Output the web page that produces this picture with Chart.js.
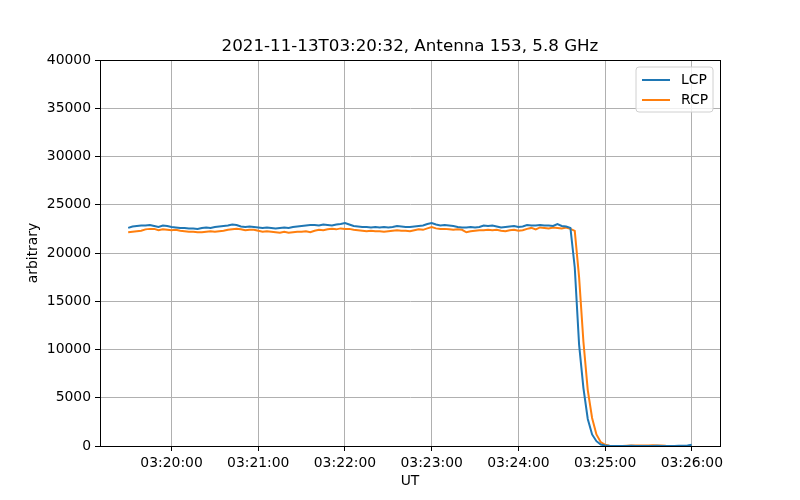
<!DOCTYPE html>
<html>
<head>
<meta charset="utf-8">
<script src="https://cdn.jsdelivr.net/npm/chart.js@4"></script>
<style>
  html, body { margin: 0; padding: 0; background: #fff; }
  #wrap { width: 800px; height: 500px; }
</style>
</head>
<body>
<div id="wrap"><canvas id="chart" width="800" height="500"></canvas></div>
<script>
// samples every 3 s starting 03:19:30 UT
const startSec = 3 * 3600 + 19 * 60 + 30;
const stepSec = 3;

const lcp = [
  22600, 22750, 22800, 22850, 22850, 22900, 22800, 22700, 22850, 22800,
  22700, 22650, 22600, 22600, 22550, 22550, 22500, 22600, 22650, 22600,
  22700, 22750, 22800, 22850, 22950, 22900, 22750, 22700, 22750, 22700,
  22650, 22600, 22650, 22600, 22550, 22600, 22650, 22600, 22700, 22750,
  22800, 22850, 22900, 22900, 22850, 22950, 22900, 22850, 22950, 23000,
  23100, 22950, 22800, 22750, 22700, 22700, 22650, 22700, 22650, 22700,
  22650, 22700, 22800, 22750, 22700, 22700, 22750, 22800, 22850, 23000,
  23100, 22950, 22850, 22900, 22850, 22800, 22700, 22650, 22650, 22700,
  22650, 22700, 22850, 22800, 22850, 22750, 22650, 22700, 22750, 22800,
  22700, 22750, 22900, 22850, 22850, 22900, 22850, 22850, 22800, 23000,
  22800, 22750, 22600, 18500, 10500, 6000, 2800, 1200, 500, 150,
  50, 20, 10, 0, 0, 10, 20, 10, 0, 10,
  0, 10, 20, 10, 0, 0, 10, 20, 30, 50,
  120
];

const rcp = [
  22150, 22200, 22250, 22300, 22450, 22500, 22500, 22350, 22450, 22400,
  22350, 22400, 22300, 22250, 22200, 22200, 22150, 22150, 22200, 22250,
  22200, 22250, 22300, 22400, 22450, 22500, 22450, 22350, 22400, 22400,
  22300, 22200, 22250, 22200, 22150, 22100, 22200, 22100, 22150, 22200,
  22200, 22250, 22150, 22300, 22400, 22350, 22450, 22500, 22450, 22550,
  22500, 22500, 22400, 22350, 22300, 22250, 22300, 22250, 22250, 22200,
  22250, 22300, 22350, 22300, 22300, 22250, 22350, 22450, 22400, 22550,
  22700, 22550, 22500, 22500, 22450, 22400, 22450, 22400, 22150, 22250,
  22300, 22350, 22350, 22400, 22350, 22400, 22300, 22250, 22350, 22400,
  22300, 22350, 22500, 22600, 22450, 22650, 22600, 22550, 22650, 22600,
  22550, 22650, 22500, 22300, 17500, 10800, 5800, 2900, 1200, 400,
  120, 20, 0, -20, 0, 20, 40, 50, 40, 60,
  50, 70, 60, 40, 20, 10, 0, -10, -20, -10,
  0
];

const tickLabels = ['03:20:00', '03:21:00', '03:22:00', '03:23:00', '03:24:00', '03:25:00', '03:26:00'];
const seriesNames = ['LCP', 'RCP'];
const seriesColors = ['#1f77b4', '#ff7f0e'];
const titleText = '2021-11-13T03:20:32, Antenna 153, 5.8 GHz';

function toSec(s) {
  const p = s.split(':').map(Number);
  return p[0] * 3600 + p[1] * 60 + p[2];
}
function fmt(v) {
  const h = Math.floor(v / 3600), m = Math.floor((v % 3600) / 60), s = Math.round(v % 60);
  return [h, m, s].map(n => String(n).padStart(2, '0')).join(':');
}

const pts = (arr) => arr.map((v, i) => ({ x: startSec + i * stepSec, y: v }));
const endSec = startSec + (lcp.length - 1) * stepSec;
const margin = (endSec - startSec) * 0.05;
const tickValues = tickLabels.map(toSec);

const FONT = 'DejaVu Sans';
Chart.defaults.font.family = FONT;
Chart.defaults.color = '#000';

const frameAndLegend = {
  id: 'frameAndLegend',
  afterDraw(chart) {
    const { ctx, chartArea: a } = chart;
    ctx.save();
    ctx.strokeStyle = '#000';
    ctx.lineWidth = 1;
    ctx.strokeRect(Math.round(a.left) + 0.5, Math.round(a.top) + 0.5,
      Math.round(a.right - a.left), Math.round(a.bottom - a.top));

    // title centred over the axes
    ctx.fillStyle = '#000';
    ctx.font = '16.7px ' + FONT;
    ctx.textAlign = 'center';
    ctx.textBaseline = 'middle';
    ctx.fillText(titleText, (a.left + a.right) / 2, a.top - 13);

    // legend box, upper right inside axes
    const bx = a.right - 84, by = a.top + 7, bw = 77, bh = 45, r = 3;
    ctx.beginPath();
    ctx.moveTo(bx + r, by);
    ctx.arcTo(bx + bw, by, bx + bw, by + bh, r);
    ctx.arcTo(bx + bw, by + bh, bx, by + bh, r);
    ctx.arcTo(bx, by + bh, bx, by, r);
    ctx.arcTo(bx, by, bx + bw, by, r);
    ctx.closePath();
    ctx.fillStyle = 'rgba(255,255,255,0.8)';
    ctx.fill();
    ctx.strokeStyle = '#d0d0d0';
    ctx.lineWidth = 1;
    ctx.stroke();
    ctx.font = '13.9px ' + FONT;
    ctx.textAlign = 'left';
    seriesNames.forEach((name, i) => {
      const y = by + 13 + i * 20;
      ctx.strokeStyle = seriesColors[i];
      ctx.lineWidth = 2;
      ctx.beginPath();
      ctx.moveTo(bx + 6, y);
      ctx.lineTo(bx + 34, y);
      ctx.stroke();
      ctx.fillStyle = '#000';
      ctx.fillText(name, bx + 45, y);
    });
    ctx.restore();
  }
};

new Chart(document.getElementById('chart'), {
  type: 'line',
  data: {
    datasets: [
      { label: seriesNames[0], data: pts(lcp), borderColor: seriesColors[0], borderWidth: 2, pointRadius: 0, tension: 0 },
      { label: seriesNames[1], data: pts(rcp), borderColor: seriesColors[1], borderWidth: 2, pointRadius: 0, tension: 0 }
    ]
  },
  options: {
    responsive: false,
    animation: false,
    layout: { padding: { left: 0, right: 80, top: 60, bottom: 0 } },
    plugins: {
      legend: { display: false },
      tooltip: { enabled: false },
      title: { display: false }
    },
    scales: {
      x: {
        type: 'linear',
        min: startSec - margin,
        max: endSec + margin,
        afterBuildTicks: (s) => { s.ticks = tickValues.map(v => ({ value: v })); },
        afterFit: (s) => { s.height = 54; },
        ticks: { callback: (v) => fmt(v), font: { size: 13.9 }, padding: 4, maxRotation: 0, autoSkip: false },
        grid: { color: '#b0b0b0', lineWidth: 1, tickColor: '#000', tickLength: 5 },
        border: { color: '#000' },
        title: { display: true, text: 'UT', font: { size: 13.9 }, padding: { top: 0, bottom: 10 } }
      },
      y: {
        min: 0,
        max: 40000,
        afterFit: (s) => { s.width = 100; },
        ticks: { stepSize: 5000, callback: (v) => String(v), font: { size: 13.9 }, padding: 4 },
        grid: { color: '#b0b0b0', lineWidth: 1, tickColor: '#000', tickLength: 5 },
        border: { color: '#000' },
        title: { display: true, text: 'arbitrary', font: { size: 13.9 }, padding: { top: 25, bottom: 0 } }
      }
    }
  },
  plugins: [frameAndLegend]
});
</script>
</body>
</html>
